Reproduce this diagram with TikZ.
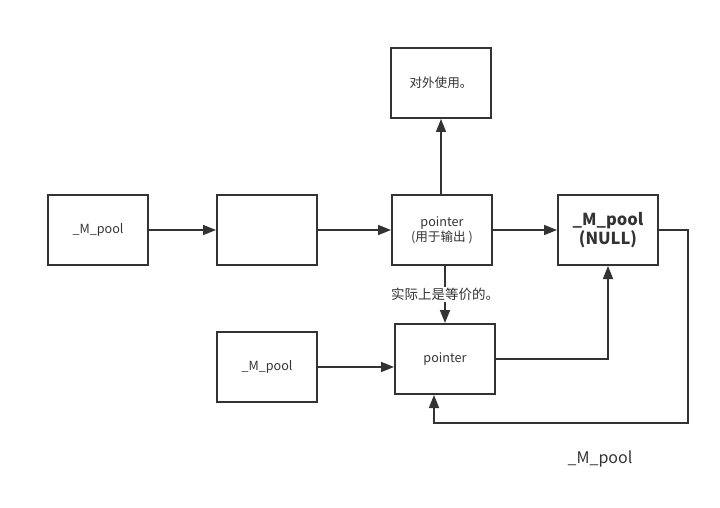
\documentclass[tikz,border=0pt]{standalone}
\usepackage{fontspec}
\setmainfont{Noto Sans CJK SC}
\usetikzlibrary{arrows.meta}
\definecolor{ink}{HTML}{333333}
\tikzset{
  box/.style={draw=ink, line width=2pt, minimum width=100pt, minimum height=70pt, inner sep=0pt, text=ink, font=\fontsize{12.6pt}{15pt}\selectfont, align=center},
  conn/.style={draw=ink, line width=1.7pt, -{Triangle[length=13pt,width=10pt]}}
}
\begin{document}
\begin{tikzpicture}[x=1pt,y=-1pt]
\useasboundingbox (0,0) rectangle (720,508);
\node[box] (a) at (98,230) {\_M\_pool};
\node[box] (b) at (267,230) {};
\node[box] (c) at (442,230) {pointer\\(用于输出 )};
\node[box, font=\fontsize{16.5pt}{19pt}\selectfont\bfseries] (d) at (608,230) {\_M\_pool\\(NULL)};
\node[box] (e) at (441,83) {对外使用。};
\node[box] (f) at (267,367) {\_M\_pool};
\node[box] (g) at (445,359) {pointer};
\node[text=ink, font=\fontsize{16pt}{18pt}\selectfont] (lbl) at (600,459) {\_M\_pool};
\coordinate (c1) at (688,230);
\coordinate (c2) at (688,423);
\coordinate (c3) at (434,423);
\draw[conn] (a) -- (b);
\draw[conn] (b) -- (c);
\draw[conn] (c) -- (d);
\draw[conn] (c.north -| e) -- (e.south);
\draw[conn] (c.south -| g) -- node[fill=white, text=ink, inner sep=1pt, font=\fontsize{13.5pt}{15pt}\selectfont, pos=0.5] {实际上是等价的。} (g.north);
\draw[conn] (f) -- (f -| g.west);
\draw[conn] (g.east) -| (d.south);
\draw[conn] (d.east) -- (c1) -- (c2) -- (c3) -- (c3 |- g.south);
\end{tikzpicture}
\end{document}
